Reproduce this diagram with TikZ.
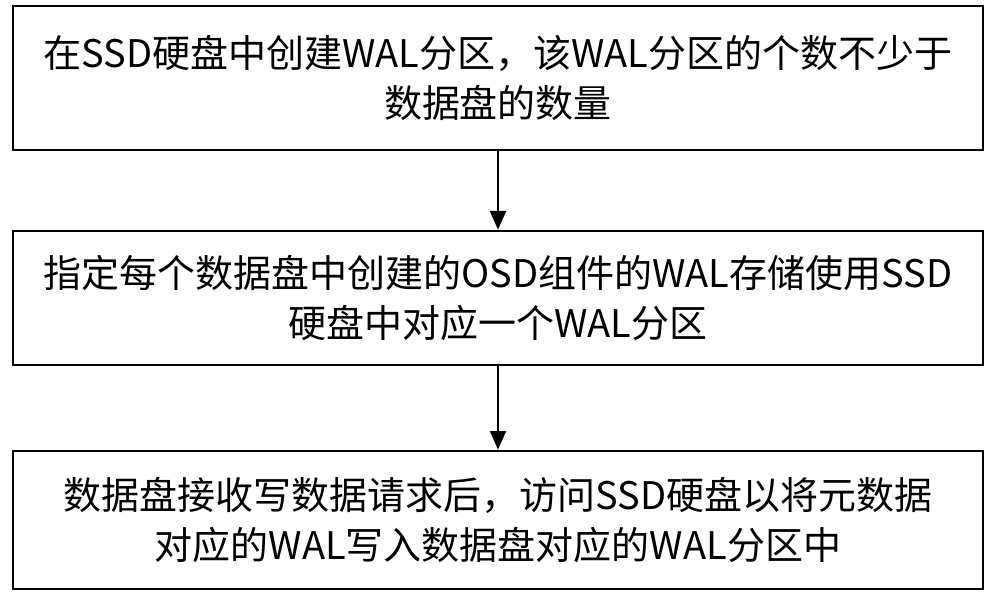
\documentclass[tikz,border=0pt]{standalone}
\usepackage{fontspec}
\newfontfamily\cjk{Noto Sans CJK SC}
\usetikzlibrary{arrows.meta}
\tikzset{stepbox/.style={draw,line width=1.5pt,minimum width=727.5pt,align=center,font=\cjk\fontsize{28.5}{37}\selectfont},
arr/.style={-{Triangle[length=14pt,width=12pt]},line width=1.5pt}}
\begin{document}
\begin{tikzpicture}[x=0.75pt,y=-0.75pt]
\useasboundingbox (0,0) rectangle (1000,599);
\node[stepbox,minimum height=108pt] (a) at (498,78) {在SSD硬盘中创建WAL分区，该WAL分区的个数不少于\\数据盘的数量};
\node[stepbox,minimum height=101pt] (b) at (498,298) {指定每个数据盘中创建的OSD组件的WAL存储使用SSD\\硬盘中对应一个WAL分区};
\node[stepbox,minimum height=104pt] (c) at (498,520) {数据盘接收写数据请求后，访问SSD硬盘以将元数据\\对应的WAL写入数据盘对应的WAL分区中};
\draw[arr] (a) -- (b);
\draw[arr] (b) -- (c);
\end{tikzpicture}
\end{document}
